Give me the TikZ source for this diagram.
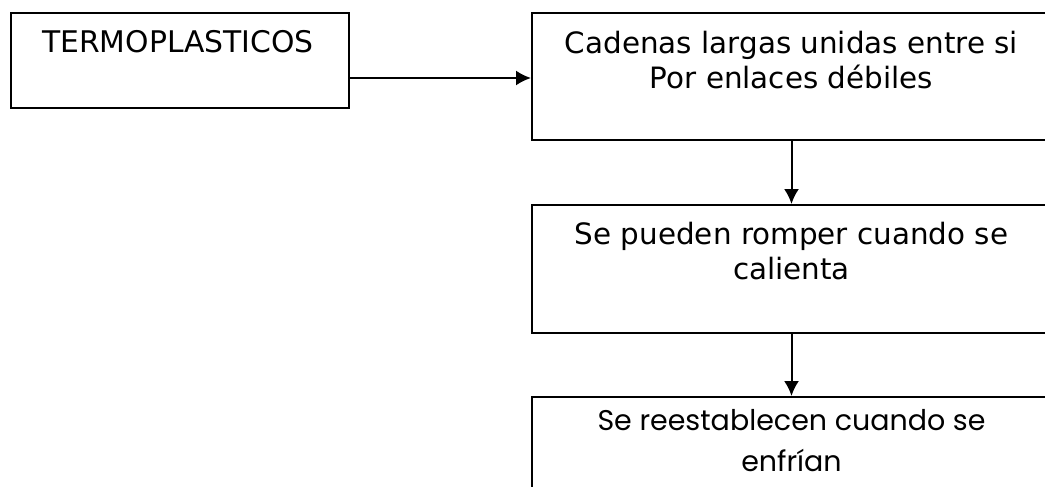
\documentclass[tikz,border=0pt]{standalone}
\usepackage{fontspec}
\setmainfont{DejaVu Sans}
\newfontfamily\gothicfont{Poppins}
\usetikzlibrary{arrows.meta,positioning,calc}
\tikzset{%
  box/.style={draw,line width=2pt,minimum height=95pt,inner sep=0pt,anchor=north west},
  txt/.style={align=center,inner sep=0pt,anchor=north},
  arrow/.style={-{Latex[length=15pt,width=15pt]}, line width=2pt}%
}

\begin{document}
\begin{tikzpicture}[
    x=1pt, y=1pt,
    font=\fontsize{29.4pt}{35pt}\selectfont
]
\useasboundingbox (0,0) rectangle (1045,-487);
\clip (0,0) rectangle (1045,-487);

% Frames (right side runs off the page)
\node[box, minimum width=338pt] (box1) at (10,-12) {};
\node[box, minimum width=521pt, minimum height=127pt] (box2) at (531,-12) {};
\node[box, minimum width=521pt, minimum height=128pt] (box3) at (531,-204) {};
\node[box, minimum width=521pt, minimum height=128pt] (box4) at (531,-396) {};

% Texts
\node[txt, font=\fontsize{29.8pt}{35pt}\selectfont] (t1) at (178,-30) {TERMOPLASTICOS};
\node[txt] (t2) at (791.5,-31) {Cadenas largas unidas entre si\\Por enlaces débiles};
\node[txt] (t3) at (791.5,-222) {Se pueden romper cuando se\\calienta};
\node[txt, font=\gothicfont\fontsize{28.5pt}{41pt}\selectfont] (t4) at (791.5,-409) {Se reestablecen cuando se\\enfrían};

% Arrows
\coordinate (hook) at ([yshift=31pt]box1.south east);
\draw[arrow] (hook) -- (hook -| box2.west);
\draw[arrow] (t2 |- box2.south) -- (t2 |- box3.north);
\draw[arrow] (t3 |- box3.south) -- (t3 |- box4.north);

\end{tikzpicture}
\end{document}
